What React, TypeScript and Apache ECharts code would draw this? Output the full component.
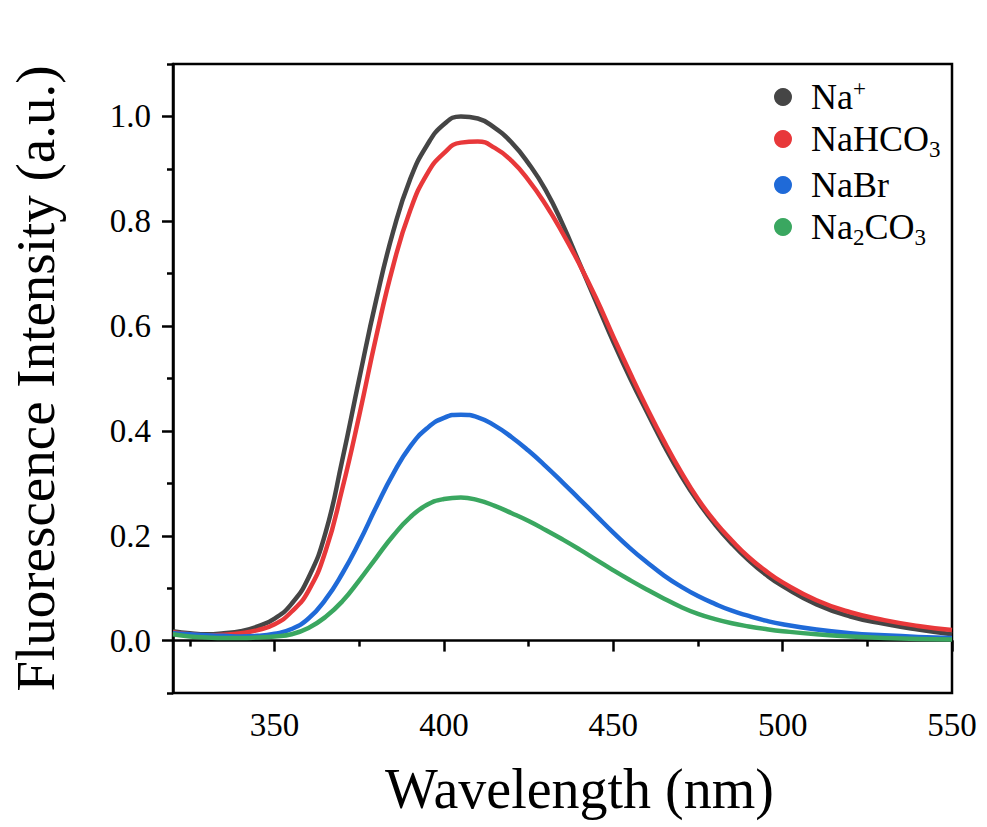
import React, { useEffect, useRef } from "react";
import * as echarts from "echarts";

const wavelengths = [320, 325, 330, 335, 340, 345, 350, 355, 360, 365, 370, 375, 380, 385, 390, 395, 400, 405, 410, 415, 420, 425, 430, 435, 440, 445, 450, 455, 460, 465, 470, 475, 480, 485, 490, 495, 500, 510, 520, 530, 540, 550];

const naPlus = [0.018, 0.014, 0.012, 0.014, 0.018, 0.027, 0.042, 0.07, 0.12, 0.205, 0.345, 0.5, 0.65, 0.78, 0.88, 0.945, 0.985, 1.0, 0.996, 0.978, 0.95, 0.91, 0.86, 0.795, 0.72, 0.645, 0.57, 0.5, 0.435, 0.372, 0.315, 0.265, 0.222, 0.185, 0.153, 0.126, 0.104, 0.069, 0.046, 0.032, 0.021, 0.012];
const naHCO3 = [0.016, 0.012, 0.01, 0.011, 0.014, 0.02, 0.031, 0.055, 0.095, 0.17, 0.29, 0.43, 0.58, 0.715, 0.82, 0.89, 0.93, 0.95, 0.952, 0.94, 0.915, 0.878, 0.832, 0.778, 0.718, 0.652, 0.58, 0.51, 0.443, 0.38, 0.322, 0.27, 0.227, 0.191, 0.159, 0.133, 0.111, 0.077, 0.054, 0.039, 0.028, 0.02];
const naBr = [0.014, 0.012, 0.01, 0.009, 0.008, 0.009, 0.013, 0.022, 0.042, 0.078, 0.128, 0.188, 0.255, 0.318, 0.37, 0.405, 0.425, 0.431, 0.426, 0.41, 0.388, 0.362, 0.333, 0.302, 0.27, 0.238, 0.206, 0.176, 0.149, 0.124, 0.103, 0.085, 0.07, 0.057, 0.047, 0.038, 0.031, 0.021, 0.014, 0.01, 0.007, 0.005];
const na2CO3 = [0.012, 0.008, 0.006, 0.005, 0.005, 0.006, 0.008, 0.012, 0.024, 0.045, 0.075, 0.115, 0.158, 0.2, 0.235, 0.259, 0.27, 0.273, 0.268, 0.257, 0.243, 0.228, 0.211, 0.193, 0.174, 0.154, 0.134, 0.115, 0.097, 0.08, 0.064, 0.051, 0.041, 0.033, 0.027, 0.022, 0.018, 0.012, 0.008, 0.005, 0.003, 0.002];

const seriesNames = ["Na+", "NaHCO3", "NaBr", "Na2CO3"];
const legendLabels = ["Na{sup|+}", "NaHCO{sub|3}", "NaBr", "Na{sub|2}CO{sub|3}"];
const colors = ["#454545", "#e8383a", "#1f6ad8", "#3aa760"];

const xMajorTicks = [350, 400, 450, 500, 550];
const xMinorTicks = [325, 375, 425, 475, 525];
const yMajorTicks = [0, 0.2, 0.4, 0.6, 0.8, 1.0];
const yMinorTicks = [-0.1, 0.1, 0.3, 0.5, 0.7, 0.9, 1.1];

const FONT = "'Times New Roman', 'Liberation Serif', serif";

export default function App() {
  const ref = useRef<HTMLDivElement>(null);
  useEffect(() => {
    if (!ref.current) return;
    const chart = echarts.init(ref.current, null, { renderer: "svg" });
    const allData = [naPlus, naHCO3, naBr, na2CO3];
    const axisLine = { show: true, lineStyle: { color: "#000", width: 2.5 } };
    chart.setOption({
      animation: false,
      backgroundColor: "#fff",
      grid: {
        left: 172, right: 35, top: 64, bottom: 134,
        show: true, borderColor: "#000", borderWidth: 2.5, backgroundColor: "transparent",
      },
      legend: {
        orient: "vertical",
        left: 769,
        top: 72,
        icon: "circle",
        itemWidth: 18,
        itemHeight: 18,
        itemGap: 6,
        data: seriesNames,
        formatter: (name: string) => legendLabels[seriesNames.indexOf(name)],
        textStyle: {
          fontFamily: FONT,
          fontSize: 36,
          color: "#000",
          padding: [0, 0, 0, 14],
          rich: {
            sup: { fontFamily: FONT, fontSize: 23, color: "#000", padding: [0, 0, 17, 0] },
            sub: { fontFamily: FONT, fontSize: 23, color: "#000", padding: [21, 0, 0, 0] },
          },
        },
      },
      xAxis: [
        {
          type: "value", min: 320, max: 550, position: "bottom",
          axisLine,
          axisTick: { show: true, inside: false, length: 11, customValues: xMajorTicks, lineStyle: { color: "#000", width: 2.5 } },
          axisLabel: { show: true, customValues: xMajorTicks, fontFamily: FONT, fontSize: 33, color: "#000", margin: 15 },
          splitLine: { show: false },
          name: "Wavelength (nm)",
          nameLocation: "middle",
          nameGap: 68,
          nameTextStyle: { fontFamily: FONT, fontSize: 56, color: "#000", padding: [0, 0, 0, 34] },
        },
        {
          type: "value", min: 320, max: 550, position: "bottom",
          axisLine: { show: false },
          axisTick: { show: true, inside: false, length: 6, customValues: xMinorTicks, lineStyle: { color: "#000", width: 2.5 } },
          axisLabel: { show: false },
          splitLine: { show: false },
        },
      ],
      yAxis: [
        {
          type: "value", min: -0.1, max: 1.1, position: "left",
          axisLine,
          axisTick: { show: true, inside: false, length: 11, customValues: yMajorTicks, lineStyle: { color: "#000", width: 2.5 } },
          axisLabel: {
            show: true, customValues: yMajorTicks, fontFamily: FONT, fontSize: 33, color: "#000", margin: 22,
            formatter: (v: number) => v.toFixed(1),
          },
          splitLine: { show: false },
          name: "Fluorescence Intensity (a.u.)",
          nameLocation: "middle",
          nameGap: 110,
          nameTextStyle: { fontFamily: FONT, fontSize: 55, color: "#000" },
        },
        {
          type: "value", min: -0.1, max: 1.1, position: "left",
          axisLine: { show: false },
          axisTick: { show: true, inside: false, length: 6, customValues: yMinorTicks, lineStyle: { color: "#000", width: 2.5 } },
          axisLabel: { show: false },
          splitLine: { show: false },
        },
      ],
      series: seriesNames.map((name, i) => ({
        name,
        type: "line",
        xAxisIndex: 0,
        yAxisIndex: 0,
        data: wavelengths.map((w, j) => [w, allData[i][j]]),
        smooth: 0.5,
        showSymbol: false,
        symbol: "none",
        color: colors[i],
        lineStyle: { color: colors[i], width: 4.5 },
        z: 2 + i,
      })),
    });
    return () => chart.dispose();
  }, []);
  return <div ref={ref} style={{ position: "fixed", left: 0, top: 0, width: 987, height: 827 }} />;
}
